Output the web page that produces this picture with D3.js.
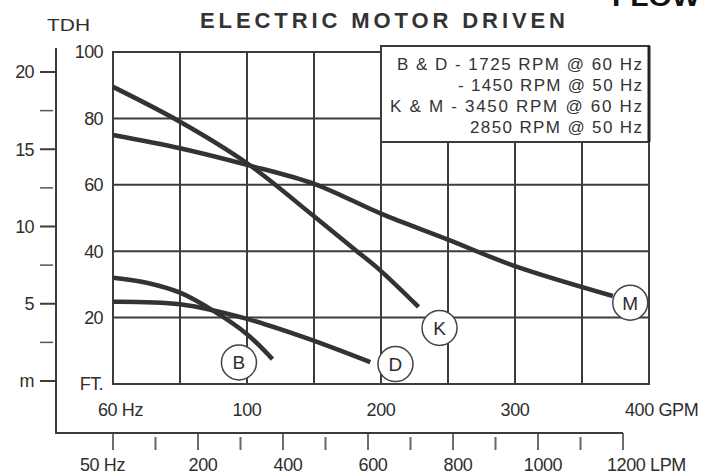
<!DOCTYPE html>
<html><head><meta charset="utf-8">
<script src="https://cdn.jsdelivr.net/npm/d3@7"></script>
<style>
html,body{margin:0;padding:0;background:#fff;}
svg{display:block;font-family:"Liberation Sans",Arial,sans-serif;}
</style></head>
<body><svg id="c" width="715" height="474"></svg>
<script>
// ---- data ----
const gpmTicks = [0, 100, 200, 300, 400];
const gpmTickLabels = ["60 Hz", "100", "200", "300", "400 GPM"];
const gpmGrid = [50, 100, 150, 200, 250, 300, 350];
const ftTicks = [0, 20, 40, 60, 80, 100];
const ftTickLabels = ["FT.", "20", "40", "60", "80", "100"];
const ftGrid = [20, 40, 60, 80];
const mTicks = [0, 5, 10, 15, 20];
const mTickLabels = ["m", "5", "10", "15", "20"];
const mMinor = [2.5, 7.5, 12.5, 17.5];
const lpmTicks = [0, 200, 400, 600, 800, 1000, 1200];
const lpmTickLabels = ["50 Hz", "200", "400", "600", "800", "1000", "1200 LPM"];
const lpmMinor = [100, 300, 500, 700, 900, 1100];

const curveKgpm = [0, 50, 100, 150, 182, 200, 228];
const curveKft  = [89.5, 79, 66.5, 50.5, 40, 34, 23.2];
const curveMgpm = [0, 50, 100, 150, 200, 250, 300, 373];
const curveMft  = [75, 71, 66, 60.3, 51.3, 43.5, 35.5, 26.5];
const curveBgpm = [0, 25, 50, 75, 100, 119];
const curveBft  = [32, 30.5, 27.5, 22, 15, 7.5];
const curveDgpm = [0, 50, 100, 150, 192];
const curveDft  = [24.8, 24, 19.6, 13, 6.6];

const curveNames = ["B", "D", "K", "M"];
const labelGpm = [94, 210.8, 243.7, 386];
const labelFt  = [6.5, 6, 16.9, 24.5];

const legendLines = ["B & D - 1725 RPM @ 60 Hz", "- 1450 RPM @ 50 Hz", "K & M - 3450 RPM @ 60 Hz", "2850 RPM @ 50 Hz"];
const titleText = "ELECTRIC MOTOR DRIVEN";

// ---- scales ----
const x = d3.scaleLinear().domain([0, 400]).range([113, 649]);
const y = d3.scaleLinear().domain([0, 100]).range([384, 52]);
const yM = d3.scaleLinear().domain([0, 20]).range([381, 72]);
const xL = d3.scaleLinear().domain([0, 1200]).range([113, 623]);

const svg = d3.select("#c");
const ink = "#2e2e2e";
const gridC = "#3c3c3c";

// title
svg.append("text").attr("x", 200).attr("y", 28).attr("font-size", 22).attr("font-weight", "bold")
  .attr("fill", "#333").attr("textLength", 365).attr("lengthAdjust", "spacing").text(titleText);
svg.append("text").attr("x", 612).attr("y", 6).attr("font-size", 26).attr("font-weight", "bold")
  .attr("fill", "#111").attr("textLength", 88).attr("lengthAdjust", "spacingAndGlyphs").text("FLOW");
svg.append("text").attr("x", 47).attr("y", 31).attr("font-size", 17)
  .attr("fill", ink).attr("textLength", 43).attr("lengthAdjust", "spacingAndGlyphs").text("TDH");

// grid
const g = svg.append("g");
g.selectAll(".vg").data(gpmGrid).join("line")
  .attr("x1", d => x(d)).attr("x2", d => x(d)).attr("y1", y(100)).attr("y2", y(0))
  .attr("stroke", gridC).attr("stroke-width", 2);
g.selectAll(".hg").data(ftGrid).join("line")
  .attr("x1", x(0)).attr("x2", x(400)).attr("y1", d => y(d)).attr("y2", d => y(d))
  .attr("stroke", gridC).attr("stroke-width", 2);
g.append("rect").attr("x", x(0)).attr("y", y(100)).attr("width", x(400) - x(0)).attr("height", y(0) - y(100))
  .attr("fill", "none").attr("stroke", gridC).attr("stroke-width", 2);

// ft tick labels
svg.selectAll(".ftl").data(ftTicks).join("text")
  .attr("x", 103).attr("y", d => y(d)).attr("dy", "0.36em").attr("text-anchor", "end")
  .attr("font-size", 18).attr("letter-spacing", -0.6).attr("fill", ink)
  .text((d, i) => ftTickLabels[i]);

// gpm tick labels
svg.selectAll(".gl").data(gpmTicks).join("text")
  .attr("x", (d, i) => i === 0 ? x(d) - 15 : (i === gpmTicks.length - 1 ? x(d) - 24 : x(d)))
  .attr("y", 416).attr("text-anchor", (d, i) => (i === 0 || i === gpmTicks.length - 1) ? "start" : "middle")
  .attr("font-size", 18).attr("letter-spacing", -0.4).attr("fill", ink)
  .text((d, i) => gpmTickLabels[i]);

// metric axis
svg.append("line").attr("x1", 56).attr("x2", 56).attr("y1", 48).attr("y2", 434).attr("stroke", gridC).attr("stroke-width", 2);
svg.selectAll(".mt").data(mTicks).join("line")
  .attr("x1", 40).attr("x2", 56).attr("y1", d => yM(d)).attr("y2", d => yM(d)).attr("stroke", gridC).attr("stroke-width", 2);
svg.selectAll(".mmt").data(mMinor).join("line")
  .attr("x1", 40).attr("x2", 53).attr("y1", d => yM(d)).attr("y2", d => yM(d)).attr("stroke", "#555").attr("stroke-width", 1.5);
svg.selectAll(".ml").data(mTicks).join("text")
  .attr("x", 34).attr("y", d => yM(d)).attr("dy", "0.36em").attr("text-anchor", "end")
  .attr("font-size", 18).attr("letter-spacing", -0.6).attr("fill", ink)
  .text((d, i) => mTickLabels[i]);

// LPM axis
svg.append("line").attr("x1", 55).attr("x2", xL(1200)).attr("y1", 433).attr("y2", 433).attr("stroke", gridC).attr("stroke-width", 2);
svg.selectAll(".lt").data(lpmTicks).join("line")
  .attr("x1", d => xL(d)).attr("x2", d => xL(d)).attr("y1", 433).attr("y2", 450).attr("stroke", gridC).attr("stroke-width", 1.5);
svg.selectAll(".lmt").data(lpmMinor).join("line")
  .attr("x1", d => xL(d)).attr("x2", d => xL(d)).attr("y1", 437).attr("y2", 450).attr("stroke", "#666").attr("stroke-width", 2);
svg.selectAll(".ll").data(lpmTicks).join("text")
  .attr("x", (d, i) => i === 0 ? xL(d) - 33 : (i === lpmTicks.length - 1 ? xL(d) - 16 : xL(d) + 5))
  .attr("y", 471).attr("text-anchor", (d, i) => (i === 0 || i === lpmTicks.length - 1) ? "start" : "middle")
  .attr("font-size", 18).attr("letter-spacing", -0.4).attr("fill", ink)
  .text((d, i) => lpmTickLabels[i]);

// curves
const line = d3.line().x(d => x(d[0])).y(d => y(d[1])).curve(d3.curveCatmullRom.alpha(0.5));
const curves = [
  d3.zip(curveBgpm, curveBft), d3.zip(curveDgpm, curveDft),
  d3.zip(curveKgpm, curveKft), d3.zip(curveMgpm, curveMft)
];
svg.selectAll(".cv").data(curves).join("path")
  .attr("d", line).attr("fill", "none").attr("stroke", "#333").attr("stroke-width", 4.5).attr("stroke-linecap", "butt");

// curve labels
const lab = svg.selectAll(".lb").data(curveNames).join("g")
  .attr("transform", (d, i) => `translate(${x(labelGpm[i])},${y(labelFt[i])})`);
lab.append("circle").attr("r", 17.5).attr("fill", "#fff").attr("stroke", "#444").attr("stroke-width", 1.5);
lab.append("text").attr("text-anchor", "middle").attr("dy", "0.36em").attr("font-size", 19).attr("fill", ink).text(d => d);

// legend box
svg.append("rect").attr("x", x(200)).attr("y", 46).attr("width", x(400) - x(200)).attr("height", 96)
  .attr("fill", "#fff").attr("stroke", gridC).attr("stroke-width", 2);
svg.append("line").attr("x1", x(400)).attr("x2", x(400)).attr("y1", 46).attr("y2", 142).attr("stroke", "#222").attr("stroke-width", 3);
const legW = [245, 184, 252, 172];
const legY = [70, 91, 112, 133];
svg.selectAll(".lg").data(legendLines).join("text")
  .attr("x", 642).attr("y", (d, i) => legY[i]).attr("text-anchor", "end")
  .attr("font-size", 17).attr("fill", "#333")
  .attr("textLength", (d, i) => legW[i]).attr("lengthAdjust", "spacing")
  .text(d => d);
</script></body></html>
